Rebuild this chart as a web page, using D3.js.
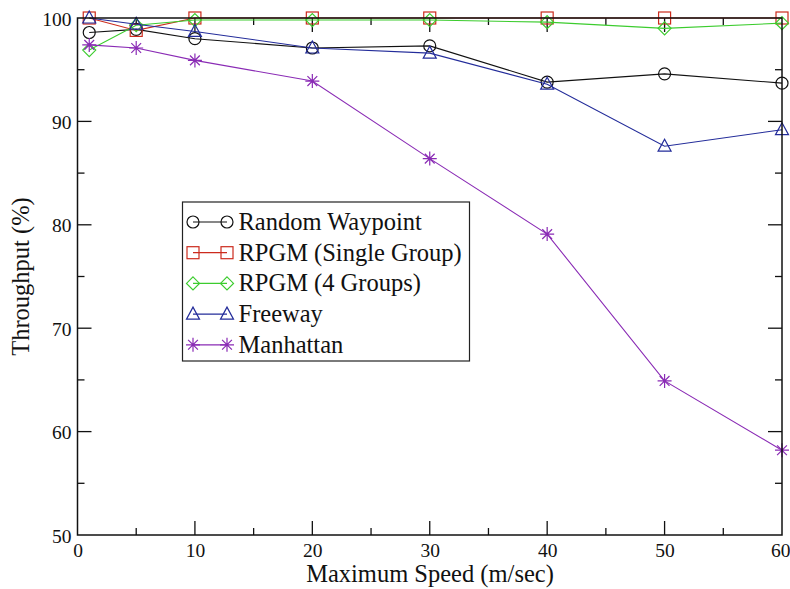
<!DOCTYPE html>
<html>
<head>
<meta charset="utf-8">
<script src="https://cdn.jsdelivr.net/npm/d3@7"></script>
<style>
  html, body { margin: 0; padding: 0; background: #fff; }
  svg { display: block; }
</style>
</head>
<body>
<svg id="chart" width="790" height="589"></svg>
<script>
// Maximum speed (m/sec) at which each mobility model was simulated
const speeds = [1, 5, 10, 20, 30, 40, 50, 60];

// Throughput (%) per mobility model
const randomWaypoint = [98.6, 98.9, 98.0, 97.1, 97.3, 93.8, 94.6, 93.7];
const rpgmSingle     = [100, 98.8, 100, 100, 100, 100, 100, 100];
const rpgmFour       = [96.9, 99.3, 99.8, 99.8, 99.8, 99.6, 99.0, 99.5];
const freeway        = [100, 99.4, 98.7, 97.1, 96.6, 93.6, 87.6, 89.2];
const manhattan      = [97.4, 97.1, 95.9, 93.9, 86.4, 79.1, 64.9, 58.2];

const seriesNames  = ["Random Waypoint", "RPGM (Single Group)", "RPGM (4 Groups)", "Freeway", "Manhattan"];
const seriesValues = [randomWaypoint, rpgmSingle, rpgmFour, freeway, manhattan];
const seriesColors = ["#111111", "#cc2b1d", "#3ccc2e", "#232c9a", "#8a2bb5"];
const seriesSymbols = ["circle", "square", "diamond", "triangle", "star"];

const xTicks = [0, 10, 20, 30, 40, 50, 60];
const yTicks = [50, 60, 70, 80, 90, 100];

const SERIF = '"Liberation Serif", "Times New Roman", serif';

const margin = { left: 77.5, right: 8, top: 18, bottom: 54 };
const W = 790, H = 589;

const svg = d3.select("#chart");
const x = d3.scaleLinear().domain([0, 60]).range([margin.left, W - margin.right]);
const y = d3.scaleLinear().domain([50, 100]).range([H - margin.bottom, margin.top]);

const x0 = x.range()[0], x1 = x.range()[1];
const y0 = y.range()[0], y1 = y.range()[1];

// Frame ticks: major/minor inward ticks on all four sides
const gt = svg.append("g").attr("stroke", "#111").attr("stroke-width", 1.3);
d3.range(0, 61, 5).forEach(v => {
  const len = v % 10 === 0 ? 14 : 7;
  if (v === 0 || v === 60) return;
  gt.append("line").attr("x1", x(v)).attr("x2", x(v)).attr("y1", y0).attr("y2", y0 - len);
  gt.append("line").attr("x1", x(v)).attr("x2", x(v)).attr("y1", y1).attr("y2", y1 + len);
});
d3.range(50, 101, 5).forEach(v => {
  const len = v % 10 === 0 ? 14 : 7;
  if (v === 50 || v === 100) return;
  gt.append("line").attr("y1", y(v)).attr("y2", y(v)).attr("x1", x0).attr("x2", x0 + len);
  gt.append("line").attr("y1", y(v)).attr("y2", y(v)).attr("x1", x1).attr("x2", x1 - len);
});

// Tick labels via d3 axes (lines hidden, only labels kept)
const xAxis = svg.append("g")
  .attr("transform", `translate(0,${y0})`)
  .call(d3.axisBottom(x).tickValues(xTicks).tickFormat(d3.format("d")).tickSize(0).tickPadding(8));
const yAxis = svg.append("g")
  .attr("transform", `translate(${x0},0)`)
  .call(d3.axisLeft(y).tickValues(yTicks).tickFormat(d3.format("d")).tickSize(0).tickPadding(6));
[xAxis, yAxis].forEach(a => {
  a.select(".domain").remove();
  a.selectAll("text")
    .style("font-family", SERIF).style("font-size", "19.5px").attr("fill", "#111");
});
yAxis.selectAll("text").attr("dy", "0.36em");
xAxis.selectAll("text").attr("dy", "0.73em");
// keep the last x label inside the page edge
xAxis.selectAll("text").filter(d => d === 60).attr("text-anchor", "end").attr("dx", 8);

// Axis titles
svg.append("text")
  .attr("x", 430).attr("y", 582)
  .attr("text-anchor", "middle").attr("fill", "#111")
  .style("font-family", SERIF).style("font-size", "24.5px")
  .text("Maximum Speed (m/sec)");
svg.append("text")
  .attr("transform", `translate(29,${(y0 + y1) / 2}) rotate(-90)`)
  .attr("text-anchor", "middle").attr("fill", "#111")
  .style("font-family", SERIF).style("font-size", "24.5px")
  .text("Throughput (%)");

// Marker drawing
function drawSymbol(g, kind, cx, cy, color) {
  const s = g.append("g").attr("transform", `translate(${cx},${cy})`)
    .attr("fill", "none").attr("stroke", color).attr("stroke-width", 1.2);
  if (kind === "circle") {
    s.append("circle").attr("r", 6);
  } else if (kind === "square") {
    s.append("rect").attr("x", -6).attr("y", -6).attr("width", 12).attr("height", 12);
  } else if (kind === "diamond") {
    s.append("path").attr("d", "M0,-6.5L6.5,0L0,6.5L-6.5,0Z");
  } else if (kind === "triangle") {
    s.append("path").attr("d", "M0,-7L6.5,5L-6.5,5Z");
  } else if (kind === "star") {
    const r = 7;
    s.append("path").attr("d",
      `M0,${-r}L0,${r}M${-r},0L${r},0M${-r * 0.7},${-r * 0.7}L${r * 0.7},${r * 0.7}M${-r * 0.7},${r * 0.7}L${r * 0.7},${-r * 0.7}`);
  }
}

// Series lines and markers
const line = d3.line().x(d => x(d[0])).y(d => y(d[1]));
const gs = svg.append("g");
seriesValues.forEach((vals, i) => {
  const pts = speeds.map((s, j) => [s, vals[j]]);
  gs.append("path").attr("d", line(pts)).attr("fill", "none")
    .attr("stroke", seriesColors[i]).attr("stroke-width", 1.1);
  pts.forEach(p => drawSymbol(gs, seriesSymbols[i], x(p[0]), y(p[1]), seriesColors[i]));
});

// Plot frame
svg.append("rect").attr("x", x0).attr("y", y1).attr("width", x1 - x0).attr("height", y0 - y1)
  .attr("fill", "none").attr("stroke", "#111").attr("stroke-width", 1.5);

// Legend
const lg = svg.append("g");
lg.append("rect").attr("x", 182.5).attr("y", 202).attr("width", 287).attr("height", 159)
  .attr("fill", "#fff").attr("stroke", "#222").attr("stroke-width", 1.2);
seriesNames.forEach((name, i) => {
  const cy = 222 + i * 30.7;
  lg.append("line").attr("x1", 193).attr("x2", 227).attr("y1", cy).attr("y2", cy)
    .attr("stroke", seriesColors[i]).attr("stroke-width", 1.2);
  drawSymbol(lg, seriesSymbols[i], 193, cy, seriesColors[i]);
  drawSymbol(lg, seriesSymbols[i], 227, cy, seriesColors[i]);
  lg.append("text").attr("x", 238.5).attr("y", cy).attr("dy", "0.33em")
    .attr("fill", "#111")
    .style("font-family", SERIF).style("font-size", "24.5px")
    .text(name);
});
</script>
</body>
</html>
